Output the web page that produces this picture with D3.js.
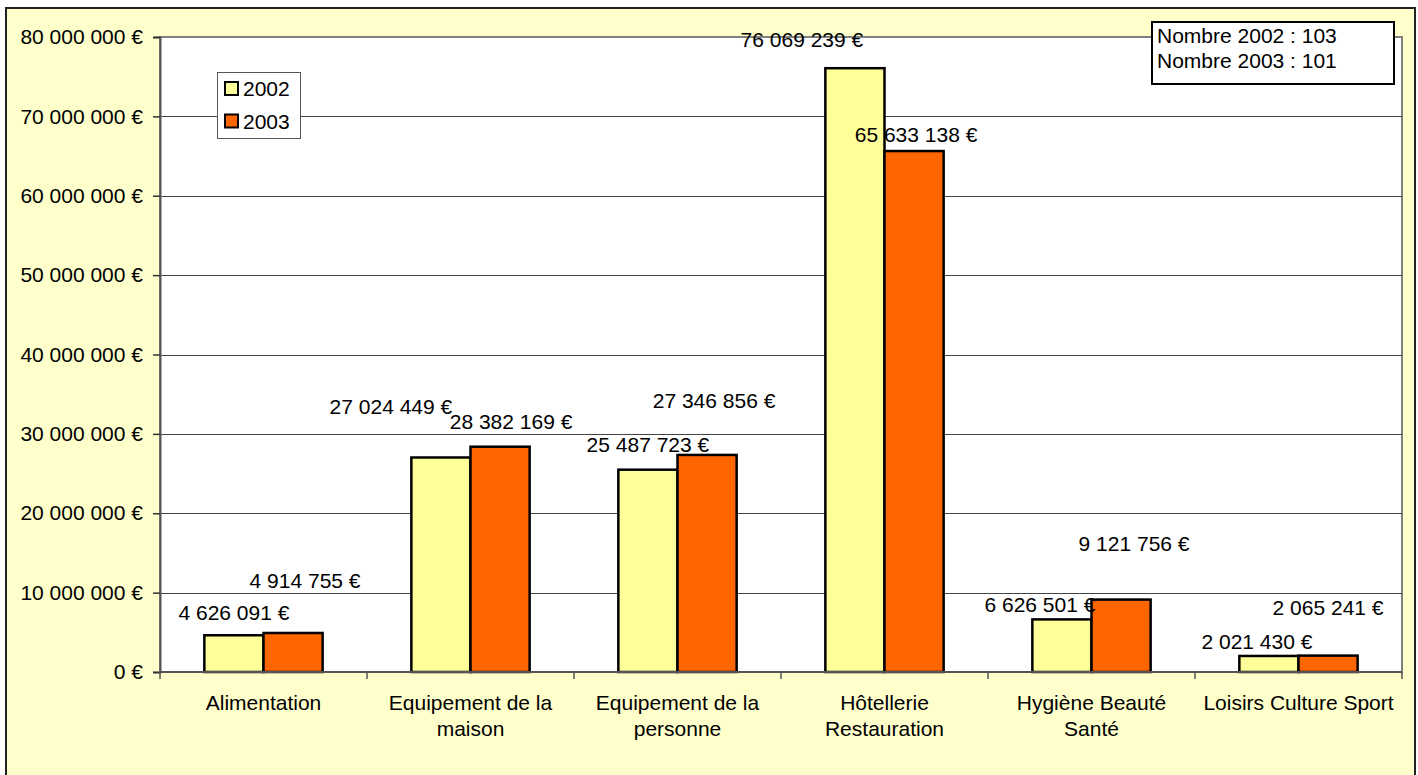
<!DOCTYPE html>
<html>
<head>
<meta charset="utf-8">
<script src="https://cdn.jsdelivr.net/npm/d3@7"></script>
<style>
html,body{margin:0;padding:0;background:#fff;}
svg{display:block;font-family:"Liberation Sans",Arial,sans-serif;}
</style>
</head>
<body>
<svg id="chart" width="1418" height="775"></svg>
<script>
// ---- data ----
const categories = [
  ["Alimentation"],
  ["Equipement de la", "maison"],
  ["Equipement de la", "personne"],
  ["Hôtellerie", "Restauration"],
  ["Hygiène Beauté", "Santé"],
  ["Loisirs Culture Sport"]
];
const seriesNames = ["2002", "2003"];
const values2002 = [4626091, 27024449, 25487723, 76069239, 6626501, 2021430];
const values2003 = [4914755, 28382169, 27346856, 65633138, 9121756, 2065241];
const yTicks = [0, 10000000, 20000000, 30000000, 40000000, 50000000, 60000000, 70000000, 80000000];
const infoLines = ["Nombre 2002 : 103", "Nombre 2003 : 101"];

// ---- layout ----
const colors = ["#FFFF99", "#FF6600"];
const FS = 21;
const svg = d3.select("#chart");
const plot = {left: 160, right: 1402, top: 37, bottom: 672};

// manual label offsets (dx, dy from bar top-center), as in the original
const labelOffsets = [
  [[0, -15], [12, -45]],
  [[-50, -43], [11, -18]],
  [[0, -18], [7, -47]],
  [[-53, -21], [2, -9]],
  [[-22, -7], [13, -49]],
  [[-12, -7], [0, -41]]
];

// background
svg.append("rect").attr("x", 6).attr("y", 8).attr("width", 1409).attr("height", 780)
  .attr("fill", "#FFFFCC").attr("stroke", "#222").attr("stroke-width", 2);

// plot area
svg.append("rect").attr("x", plot.left).attr("y", plot.top)
  .attr("width", plot.right - plot.left).attr("height", plot.bottom - plot.top)
  .attr("fill", "#fff").attr("stroke", "#808080").attr("stroke-width", 2);

const y = d3.scaleLinear().domain([0, 80000000]).range([plot.bottom, plot.top]);
const x0 = d3.scaleBand().domain(d3.range(categories.length)).range([plot.left, plot.right]).paddingInner(0).paddingOuter(0);
const x1 = d3.scaleBand().domain(seriesNames).range([0, x0.bandwidth()]).paddingInner(0).paddingOuter(0.75);

const fmt = v => d3.format(",")(v).replace(/,/g, " ") + " €";

// gridlines
svg.append("g").selectAll("line").data(yTicks.filter(t => t > 0 && t < 80000000)).join("line")
  .attr("x1", plot.left).attr("x2", plot.right)
  .attr("y1", d => Math.round(y(d)) + 0.5).attr("y2", d => Math.round(y(d)) + 0.5)
  .attr("stroke", "#444").attr("stroke-width", 1);

// y axis
const yAxis = d3.axisLeft(y).tickValues(yTicks).tickSize(7).tickPadding(10).tickFormat(fmt);
const gy = svg.append("g").attr("transform", `translate(${plot.left},0)`).call(yAxis);
gy.select(".domain").attr("stroke", "#555").attr("stroke-width", 2);
gy.selectAll(".tick line").attr("stroke", "#333").attr("stroke-width", 1.5);
gy.selectAll(".tick text").attr("font-size", FS).attr("fill", "#000")
  .attr("font-family", "Liberation Sans, Arial, sans-serif");

// bars
const groups = svg.append("g").selectAll("g").data(categories).join("g")
  .attr("transform", (d, i) => `translate(${x0(i)},0)`);
const allVals = [values2002, values2003];
groups.selectAll("rect").data((d, i) => seriesNames.map((s, k) => ({s, k, v: allVals[k][i], i})))
  .join("rect")
  .attr("x", d => x1(d.s)).attr("width", x1.bandwidth())
  .attr("y", d => y(d.v)).attr("height", d => y(0) - y(d.v))
  .attr("fill", d => colors[d.k]).attr("stroke", "#000").attr("stroke-width", 2.5);

// x axis
const gx = svg.append("g").attr("transform", `translate(0,${plot.bottom})`);
gx.append("line").attr("x1", plot.left).attr("x2", plot.right).attr("stroke", "#555").attr("stroke-width", 2);
gx.selectAll("line.t").data(d3.range(categories.length + 1)).join("line").attr("class", "t")
  .attr("x1", i => i < categories.length ? x0(i) : plot.right)
  .attr("x2", i => i < categories.length ? x0(i) : plot.right)
  .attr("y1", 0).attr("y2", 7).attr("stroke", "#555").attr("stroke-width", 1.5);
gx.selectAll("text").data(categories).join("text")
  .attr("x", (d, i) => x0(i) + x0.bandwidth() / 2)
  .attr("text-anchor", "middle").attr("font-size", FS).attr("fill", "#000")
  .each(function(lines) {
    d3.select(this).selectAll("tspan").data(lines).join("tspan")
      .attr("x", d3.select(this).attr("x"))
      .attr("y", (l, j) => 38 + j * 26)
      .text(l => l);
  });

// value labels
const lab = svg.append("g");
categories.forEach((c, i) => {
  seriesNames.forEach((s, k) => {
    const v = allVals[k][i];
    const off = labelOffsets[i][k];
    lab.append("text")
      .attr("x", x0(i) + x1(s) + x1.bandwidth() / 2 + off[0])
      .attr("y", y(v) + off[1])
      .attr("text-anchor", "middle").attr("font-size", FS).attr("fill", "#000")
      .text(fmt(v));
  });
});

// legend
const lg = svg.append("g");
lg.append("rect").attr("x", 217.5).attr("y", 72.5).attr("width", 83).attr("height", 66)
  .attr("fill", "#fff").attr("stroke", "#555").attr("stroke-width", 1);
seriesNames.forEach((s, k) => {
  lg.append("rect").attr("x", 225).attr("y", 82 + k * 32.5).attr("width", 13).attr("height", 13)
    .attr("fill", colors[k]).attr("stroke", "#000").attr("stroke-width", 2);
  lg.append("text").attr("x", 243).attr("y", 96 + k * 32.5).attr("font-size", FS).attr("fill", "#000").text(s);
});

// info box
const ib = svg.append("g");
ib.append("rect").attr("x", 1152).attr("y", 22).attr("width", 242).attr("height", 62)
  .attr("fill", "#fff").attr("stroke", "#000").attr("stroke-width", 2);
ib.selectAll("text").data(infoLines).join("text")
  .attr("x", 1157).attr("y", (d, j) => 43 + j * 25)
  .attr("font-size", FS).attr("fill", "#000").text(d => d);
</script>
</body>
</html>
